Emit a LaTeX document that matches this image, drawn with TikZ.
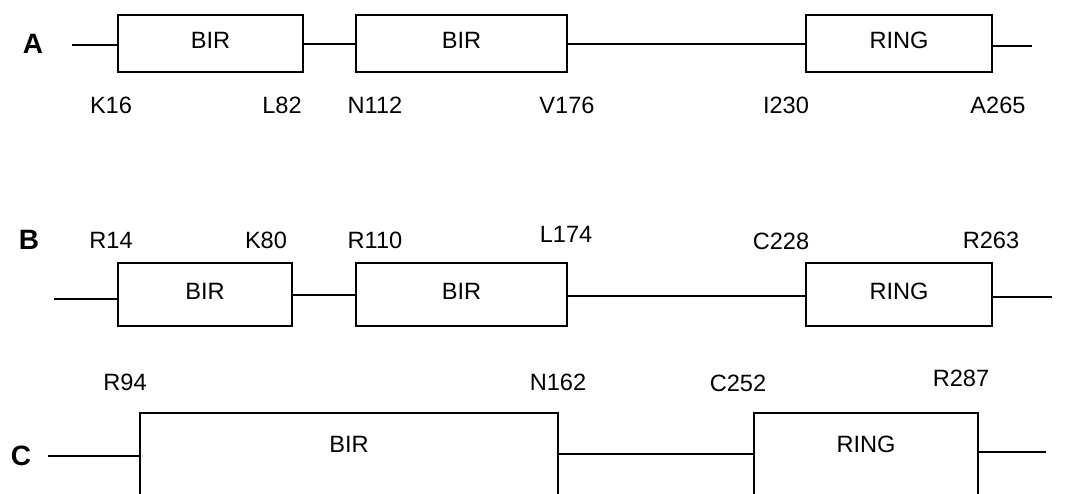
\documentclass[tikz,border=0pt]{standalone}
\usepackage{fontspec}
\setmainfont{Liberation Sans}
\begin{document}
\begin{tikzpicture}[x=0.75pt,y=-0.75pt,
  dom/.style={draw, line width=1.7pt, inner sep=0pt, minimum width=#1,
    font=\fontsize{17.7}{21}\selectfont, text height=12.7pt, text depth=5.8pt},
  lnk/.style={line width=1.5pt},
  poslbl/.style={anchor=base, inner sep=0pt, font=\fontsize{17.7}{21}\selectfont},
  rowlbl/.style={anchor=base, inner sep=0pt, font=\fontsize{21}{25}\selectfont\bfseries},
  txtlbl/.style={anchor=base, inner sep=0pt, font=\fontsize{17.7}{21}\selectfont}]
\useasboundingbox (0,0) rectangle (1066,493);
\clip (0,0) rectangle (1066,493);
% ---- row A
\node[rowlbl] (la) at (33,53) {A};
\node[dom=138.75pt, minimum height=42.75pt] (a1) at (210.5,43.5) {BIR};
\node[dom=158.25pt, minimum height=42.75pt] (a2) at (461.5,43.5) {BIR};
\node[dom=139.5pt, minimum height=42.75pt] (a3) at (899,43.5) {RING};
\coordinate (a0) at (72,44.5);
\coordinate (a4) at (1032,45.5);
\draw[lnk] (a0) -- (a0 -| a1.west);
\draw[lnk] (a1.east) -- (a2.west);
\draw[lnk] (a2.east) -- (a3.west);
\draw[lnk] (a4 -| a3.east) -- (a4);
\node[poslbl] (pa1) at (111,113) {K16};
\node[poslbl] (pa2) at (282,113) {L82};
\node[poslbl] (pa3) at (375,113) {N112};
\node[poslbl] (pa4) at (567,113) {V176};
\node[poslbl] (pa5) at (786,113) {I230};
\node[poslbl] (pa6) at (998,113) {A265};
% ---- row B
\node[rowlbl] (lb) at (29,249) {B};
\node[dom=130.5pt, minimum height=47.25pt] (b1) at (205,294.5) {BIR};
\node[dom=158.25pt, minimum height=47.25pt] (b2) at (461.5,294.5) {BIR};
\node[dom=139.5pt, minimum height=47.25pt] (b3) at (899,294.5) {RING};
\coordinate (b0) at (54,299);
\coordinate (bm) at (600,296);
\coordinate (b4) at (1052,296.5);
\draw[lnk] (b0) -- (b0 -| b1.west);
\draw[lnk] (b1.east) -- (b2.west);
\draw[lnk] (bm -| b2.east) -- (bm -| b3.west);
\draw[lnk] (b4 -| b3.east) -- (b4);
\node[poslbl] (pb1) at (111,248) {R14};
\node[poslbl] (pb2) at (266,248) {K80};
\node[poslbl] (pb3) at (375,248) {R110};
\node[poslbl] (pb4) at (566,242) {L174};
\node[poslbl] (pb5) at (781,249) {C228};
\node[poslbl] (pb6) at (991,248) {R263};
% ---- row C
\node[rowlbl] (lc) at (21,465) {C};
\node[draw, line width=1.7pt, inner sep=0pt, minimum width=313.5pt, minimum height=90pt] (c1) at (349,473) {};
\node[draw, line width=1.7pt, inner sep=0pt, minimum width=168pt, minimum height=90pt] (c2) at (866,473) {};
\node[txtlbl] (ct1) at (349,452) {BIR};
\node[txtlbl] (ct2) at (866,452) {RING};
\coordinate (c0) at (48,456);
\coordinate (cm) at (600,454);
\coordinate (c4) at (1046,452);
\draw[lnk] (c0) -- (c0 -| c1.west);
\draw[lnk] (cm -| c1.east) -- (cm -| c2.west);
\draw[lnk] (c4 -| c2.east) -- (c4);
\node[poslbl] (pc1) at (125,390) {R94};
\node[poslbl] (pc2) at (558,390) {N162};
\node[poslbl] (pc3) at (738,391) {C252};
\node[poslbl] (pc4) at (961,386) {R287};
\end{tikzpicture}
\end{document}
